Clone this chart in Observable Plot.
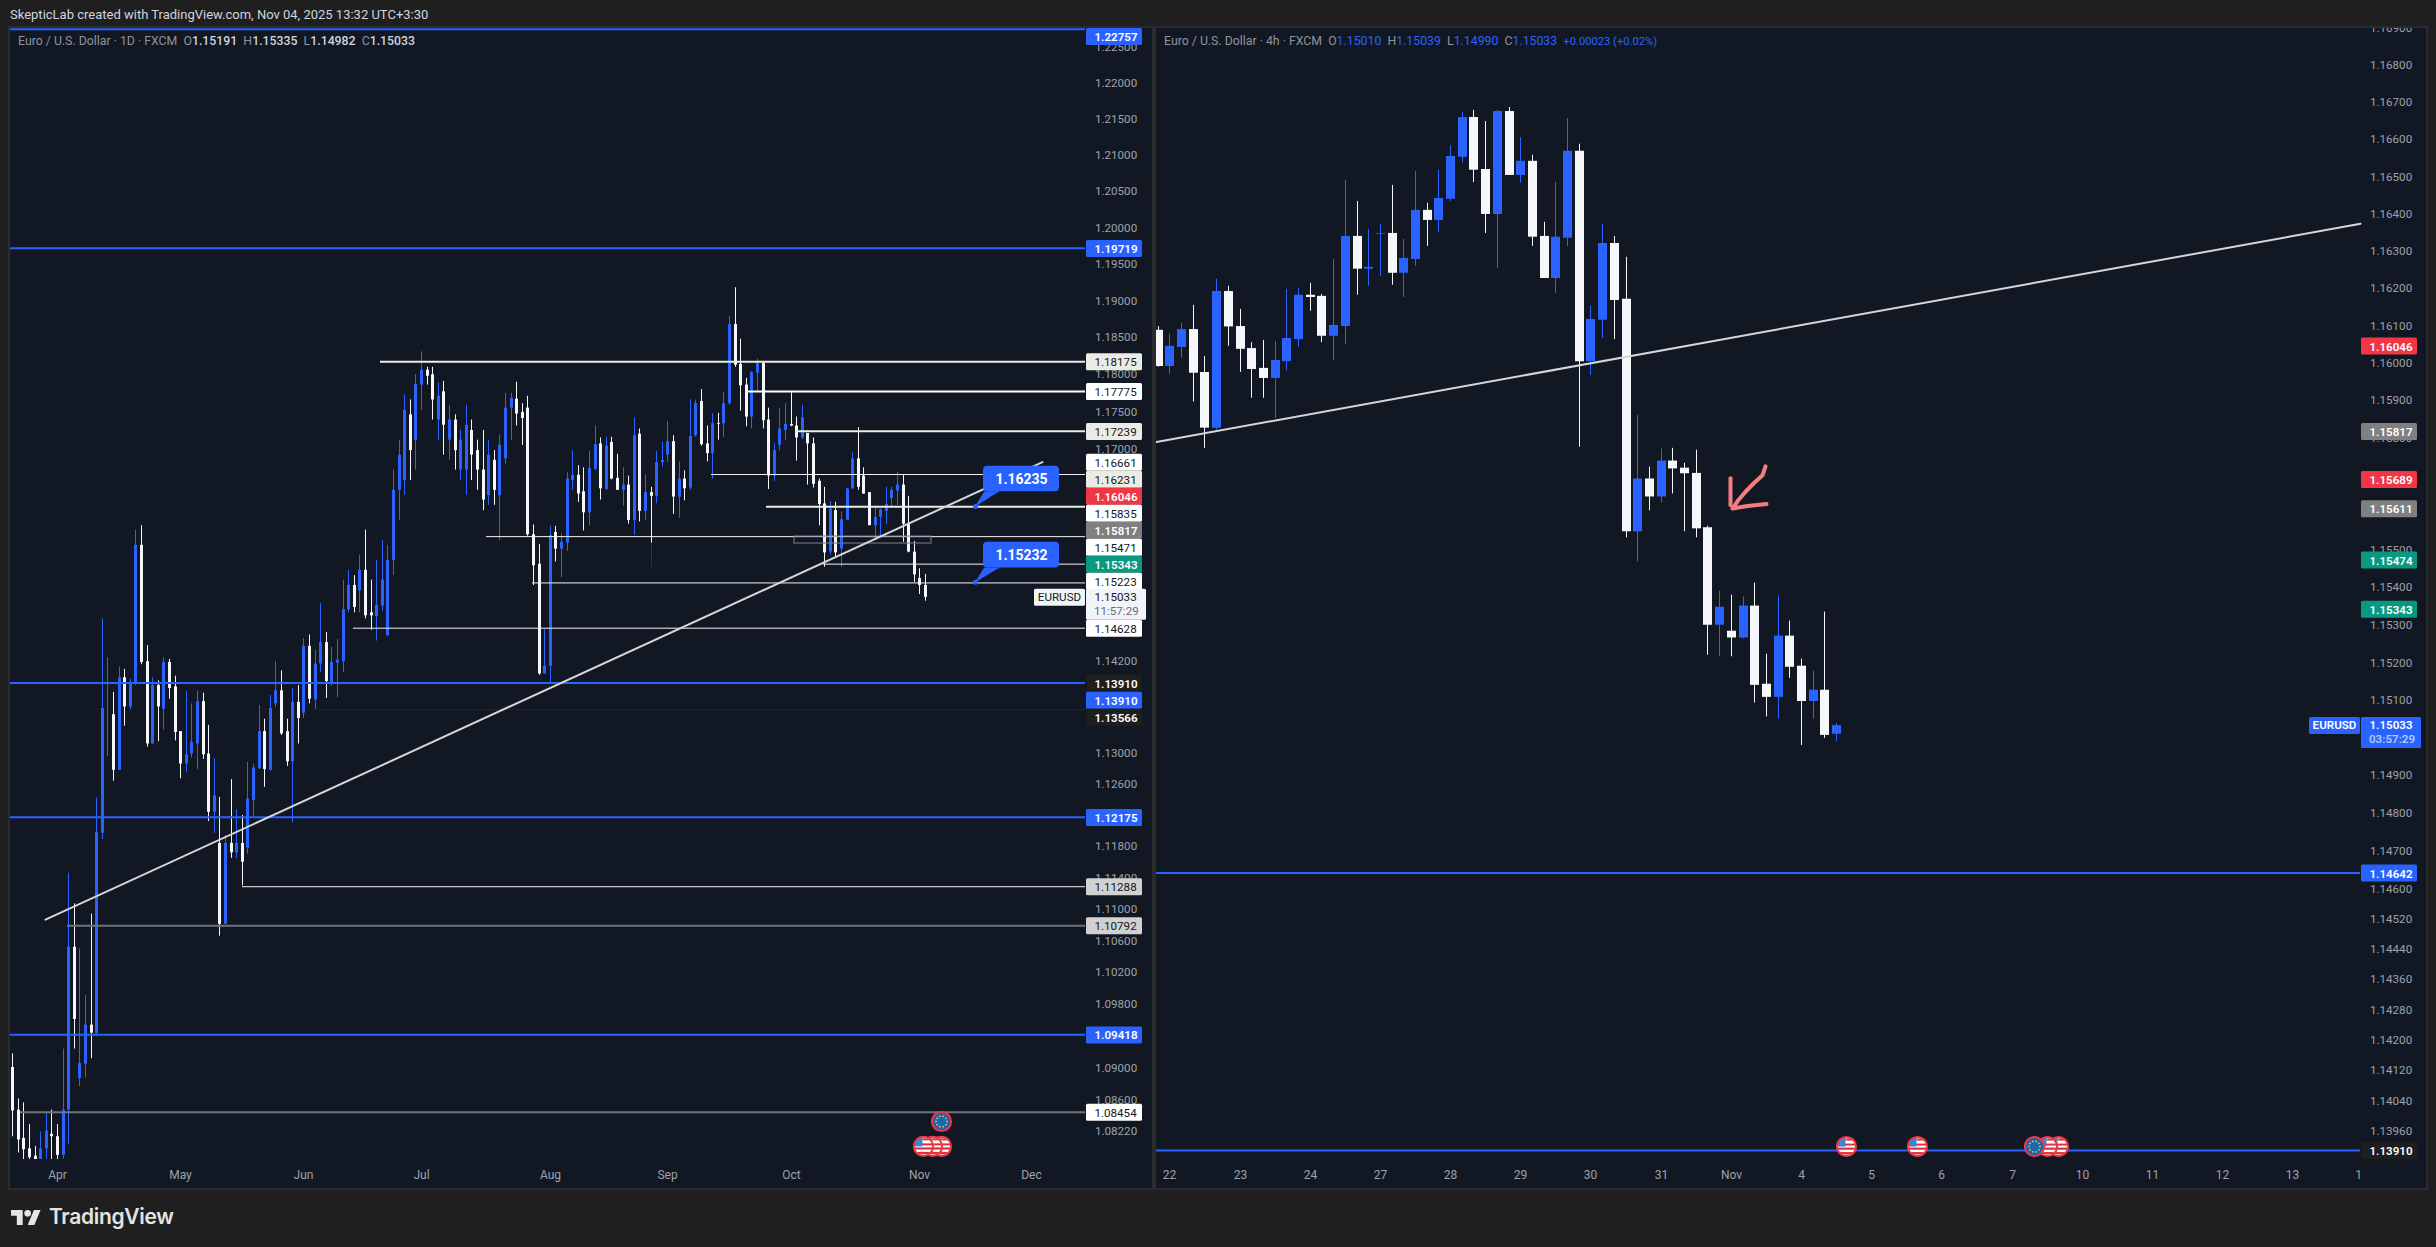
<!DOCTYPE html>
<html>
<head>
<meta charset="utf-8">
<script src="https://cdn.jsdelivr.net/npm/d3@7"></script>
<script src="https://cdn.jsdelivr.net/npm/@observablehq/plot@0.6"></script>
<style>
html,body{margin:0;padding:0;background:#1f1f1f;width:2436px;height:1247px;overflow:hidden;font-family:Roboto,sans-serif}
.abs{position:absolute}
.pane{position:absolute;background:#121823;box-sizing:content-box;border:2px solid #2a2b2f}
.hdr{position:absolute;left:10px;top:7px;font-size:13px;color:#d1d4dc;white-space:nowrap}
.legend{position:absolute;top:34px;font-size:12.3px;color:#8f939c;white-space:pre}
.legend b{font-weight:500}
.legend i{font-style:normal;font-weight:400;color:#2962ff}
svg{display:block;overflow:hidden}
</style>
</head>
<body>
<div class="pane" style="left:8px;top:26px;width:1142px;height:1160px"></div>
<div class="pane" style="left:1154px;top:26px;width:1270px;height:1160px"></div>
<div class="hdr">SkepticLab created with TradingView.com, Nov 04, 2025 13:32 UTC+3:30</div>
<div id="left" class="abs" style="left:10px;top:28px"></div>
<div id="right" class="abs" style="left:1156px;top:28px"></div>
<div class="legend" style="left:18px">Euro / U.S. Dollar · 1D · FXCM  O<b style="color:#d1d4dc">1.15191</b>  H<b style="color:#d1d4dc">1.15335</b>  L<b style="color:#d1d4dc">1.14982</b>  C<b style="color:#d1d4dc">1.15033</b></div>
<div class="legend" style="left:1164px">Euro / U.S. Dollar · 4h · FXCM  O<i>1.15010</i>  H<i>1.15039</i>  L<i>1.14990</i>  C<i>1.15033</i>  <i style="font-size:11.2px">+0.00023 (+0.02%)</i></div>
<svg class="abs" style="left:11px;top:1210px" width="30" height="15" viewBox="0 4 36 18"><path fill="#e4e4e4" d="M14 22H7V11H0V4h14v18zM28 22h-8l7.5-18h8L28 22z"/><circle fill="#e4e4e4" cx="20" cy="8" r="4"/></svg>
<div class="abs" style="left:49px;top:1204px;font-family:Inter,sans-serif;font-weight:600;font-size:21px;color:#e4e4e4;letter-spacing:-0.3px">TradingView</div>
<script>
// ---- DAILY CANDLES ----
const leftOpen=[1.0901,1.0848,1.0813,1.0800,1.0791,1.0780,1.0800,1.0818,1.0815,1.0792,
1.0848,1.1052,1.0887,1.0905,1.0954,1.0943,1.1197,1.1350,1.1350,1.1278,
1.1398,1.1360,1.1391,1.1572,1.1419,1.1312,1.1388,1.1357,1.1418,1.1386,
1.1328,1.1286,1.1299,1.1312,1.1367,1.1299,1.1224,1.1184,1.1081,1.1184,
1.1172,1.1184,1.1178,1.1239,1.1280,1.1328,1.1278,1.1364,1.1381,1.1328,
1.1289,1.1366,1.1352,1.1439,1.1369,1.1416,1.1444,1.1389,1.1417,1.1419,
1.1487,1.1519,1.1512,1.1539,1.1483,1.1478,1.1492,1.1453,1.1552,1.1645,
1.1658,1.1746,1.1712,1.1786,1.1806,1.1800,1.1739,1.1777,1.1712,1.1739,
1.1672,1.1672,1.1725,1.1698,1.1672,1.1638,1.1685,1.1638,
1.1687,1.1755,1.1767,1.1749,1.1755,1.1586,1.1547,1.1403,1.1413,1.1589,1.1567,1.1575,
1.1658,1.1665,1.1643,1.1615,1.1673,1.1707,1.1646,1.1709,1.1661,1.1645,
1.1652,1.1605,1.1720,1.1617,1.1642,1.1637,1.1682,1.1692,1.1710,1.1636,
1.1660,1.1648,1.1718,1.1764,1.1707,1.1694,1.1734,1.1734,1.1761,1.1868,
1.1814,1.1786,1.1743,1.1802,1.1815,1.1739,1.1664,1.1705,1.1725,1.1733,
1.1731,1.1715,1.1721,1.1707,1.1657,1.1627,1.1563,1.1618,1.1567,1.1605,
1.1647,1.1687,1.1664,1.1642,1.1598,1.1609,1.1617,1.1634,1.1644,1.1652,
1.1600,1.1563,1.1528,1.15191];
const leftHigh=[1.0918,1.0862,1.0857,1.0830,1.0803,1.0821,1.0844,1.0848,1.0830,1.0924,
1.1146,1.1107,1.1050,1.0991,1.1094,1.1242,1.1475,1.1424,1.1379,1.1412,
1.1409,1.1396,1.1592,1.1598,1.1440,1.1398,1.1394,1.1424,1.1422,1.1400,
1.1328,1.1380,1.1364,1.1381,1.1378,1.1336,1.1293,1.1243,1.1194,1.1266,
1.1227,1.1220,1.1288,1.1286,1.1362,1.1344,1.1375,1.1419,1.1407,1.1344,
1.1384,1.1388,1.1449,1.1454,1.1434,1.1495,1.1457,1.1438,1.1448,1.1526,
1.1539,1.1532,1.1559,1.1592,1.1526,1.1552,1.1578,1.1572,1.1672,1.1712,
1.1773,1.1766,1.1800,1.1831,1.1810,1.1810,1.1789,1.1791,1.1759,1.1746,
1.1725,1.1759,1.1739,1.1712,1.1725,1.1712,1.1698,1.1719,
1.1775,1.1775,1.1790,1.1761,1.1771,1.1599,1.1573,1.1461,1.1597,1.1597,1.1587,1.1669,
1.1698,1.1678,1.1675,1.1697,1.1731,1.1715,1.1716,1.1716,1.1693,1.1675,
1.1664,1.1742,1.1727,1.1666,1.1649,1.1697,1.1709,1.1737,1.1718,1.1683,
1.1671,1.1766,1.1766,1.1780,1.1731,1.1748,1.1748,1.1776,1.1879,1.1918,
1.1848,1.1795,1.1804,1.1821,1.1818,1.1755,1.1707,1.1755,1.1761,1.1777,
1.1743,1.1759,1.1721,1.1715,1.1660,1.1649,1.1630,1.1629,1.1616,1.1647,
1.1695,1.1729,1.1675,1.1642,1.1623,1.1620,1.1649,1.1649,1.1669,1.1665,
1.1637,1.1577,1.1541,1.15335];
const leftLow=[1.0815,1.0795,1.0770,1.0770,1.0770,1.0770,1.0775,1.0775,1.0775,1.0775,
1.0805,1.0924,1.0877,1.0888,1.0912,1.0943,1.1189,1.1296,1.1264,1.1278,
1.1335,1.1356,1.1388,1.1415,1.1308,1.1312,1.1315,1.1330,1.1370,1.1316,
1.1267,1.1275,1.1294,1.1279,1.1292,1.1212,1.1197,1.1066,1.1081,1.1165,
1.1165,1.1130,1.1170,1.1218,1.1279,1.1256,1.1277,1.1359,1.1323,1.1283,
1.1210,1.1312,1.1345,1.1364,1.1357,1.1405,1.1371,1.1387,1.1372,1.1405,
1.1483,1.1483,1.1483,1.1475,1.1460,1.1446,1.1485,1.1452,1.1532,1.1605,
1.1638,1.1658,1.1672,1.1752,1.1786,1.1739,1.1712,1.1692,1.1685,1.1672,
1.1658,1.1638,1.1658,1.1645,1.1618,1.1625,1.1625,1.1578,
1.1680,1.1712,1.1731,1.1705,1.1584,1.1519,1.1401,1.1403,1.1391,1.1550,1.1529,1.1564,
1.1645,1.1629,1.1591,1.1598,1.1671,1.1632,1.1645,1.1659,1.1645,1.1624,
1.1600,1.1585,1.1603,1.1605,1.1575,1.1627,1.1676,1.1682,1.1613,1.1608,
1.1631,1.1645,1.1716,1.1704,1.1683,1.1660,1.1712,1.1716,1.1759,1.1810,
1.1751,1.1730,1.1727,1.1778,1.1727,1.1646,1.1657,1.1698,1.1712,1.1730,
1.1684,1.1713,1.1652,1.1648,1.1598,1.1543,1.1559,1.1556,1.1543,1.1605,
1.1646,1.1645,1.1640,1.1598,1.1578,1.1583,1.1600,1.1623,1.1625,1.1576,
1.1562,1.1523,1.1507,1.14982];
const leftClose=[1.0847,1.0811,1.0799,1.0789,1.0780,1.0800,1.0822,1.0815,1.0792,1.0848,
1.1052,1.0961,1.0906,1.0954,1.0944,1.1198,1.1358,1.1350,1.1278,1.1398,
1.1360,1.1391,1.1572,1.1418,1.1312,1.1388,1.1360,1.1418,1.1384,1.1327,
1.1286,1.1298,1.1314,1.1367,1.1298,1.1224,1.1245,1.1081,1.1184,1.1172,
1.1184,1.1160,1.1241,1.1281,1.1328,1.1279,1.1358,1.1381,1.1325,1.1289,
1.1366,1.1345,1.1439,1.1370,1.1416,1.1444,1.1393,1.1418,1.1421,1.1487,
1.1519,1.1490,1.1539,1.1479,1.1479,1.1493,1.1526,1.1552,1.1645,1.1692,
1.1752,1.1698,1.1787,1.1806,1.1798,1.1766,1.1771,1.1732,1.1739,1.1698,
1.1712,1.1732,1.1692,1.1672,1.1632,1.1692,1.1645,1.1705,
1.1755,1.1768,1.1747,1.1741,1.1586,1.1545,1.1403,1.1413,1.1585,1.1567,1.1576,1.1660,
1.1665,1.1640,1.1615,1.1674,1.1706,1.1647,1.1704,1.1660,1.1645,1.1652,
1.1605,1.1718,1.1617,1.1642,1.1637,1.1682,1.1685,1.1710,1.1636,1.1660,
1.1647,1.1717,1.1761,1.1706,1.1694,1.1734,1.1733,1.1761,1.1868,1.1813,
1.1785,1.1743,1.1803,1.1815,1.1738,1.1664,1.1698,1.1727,1.1733,1.1731,
1.1715,1.1742,1.1707,1.1653,1.1626,1.1562,1.1620,1.1562,1.1606,1.1647,
1.1687,1.1649,1.1640,1.1598,1.1609,1.1619,1.1626,1.1645,1.1652,1.1600,
1.1563,1.1533,1.1519,1.15033];
// ---- 4H CANDLES ----
const rightOpen=[1.16088,1.15991,1.16042,1.16090,1.15975,1.15826,1.16192,1.16098,1.16039,1.15986,
1.15959,1.16004,1.16063,1.16182,1.16179,1.16072,1.16098,1.16340,1.16252,1.16346,
1.16348,1.16241,1.16278,1.16410,1.16383,1.16440,1.16553,1.16660,1.16520,1.16399,
1.16676,1.16504,1.16542,1.16340,1.16227,1.16335,1.16569,1.16004,1.16115,1.16321,
1.16171,1.15549,1.15690,1.15642,1.15738,1.15719,1.15705,1.15560,1.15300,1.15284,
1.15266,1.15351,1.15143,1.15108,1.15271,1.15191,1.15097,1.15127,1.15010];
const rightHigh=[1.16098,1.16077,1.16107,1.16155,1.16018,1.16225,1.16206,1.16144,1.16055,1.16061,
1.16058,1.16198,1.16201,1.16214,1.16184,1.16278,1.16491,1.16434,1.16359,1.16373,
1.16477,1.16332,1.16515,1.16429,1.16518,1.16585,1.16674,1.16679,1.16649,1.16679,
1.16687,1.16606,1.16558,1.16378,1.16485,1.16657,1.16588,1.16152,1.16373,1.16340,
1.16284,1.15860,1.15722,1.15770,1.15772,1.15732,1.15767,1.15564,1.15391,1.15380,
1.15375,1.15412,1.15223,1.15378,1.15311,1.15210,1.15178,1.15335,1.15039];
const rightLow=[1.15989,1.15970,1.16013,1.15896,1.15772,1.15820,1.16045,1.15975,1.15906,1.15906,
1.15852,1.15980,1.16042,1.16139,1.16055,1.16007,1.16050,1.16182,1.16206,1.16233,
1.16209,1.16176,1.16260,1.16313,1.16351,1.16434,1.16537,1.16485,1.16348,1.16254,
1.16504,1.16483,1.16313,1.16227,1.16187,1.16313,1.15775,1.15967,1.16066,1.16063,
1.15533,1.15469,1.15605,1.15626,1.15650,1.15549,1.15533,1.15220,1.15216,1.15216,
1.15263,1.15093,1.15056,1.15050,1.15159,1.14980,1.15050,1.14999,1.14990];
const rightClose=[1.15991,1.16045,1.16090,1.15973,1.15826,1.16192,1.16097,1.16037,1.15983,1.15959,
1.16007,1.16066,1.16182,1.16176,1.16072,1.16101,1.16340,1.16252,1.16257,1.16348,
1.16241,1.16281,1.16410,1.16383,1.16442,1.16555,1.16660,1.16518,1.16399,1.16676,
1.16504,1.16542,1.16338,1.16227,1.16338,1.16569,1.16004,1.16117,1.16321,1.16168,
1.15549,1.15690,1.15642,1.15738,1.15717,1.15704,1.15557,1.15300,1.15348,1.15266,
1.15351,1.15140,1.15108,1.15271,1.15188,1.15097,1.15127,1.15007,1.15033];
// ---- AXES ----
const leftDomain=[1.07869,1.22767], rightDomain=[1.13886,1.16900];
const leftBars=[-0.393,191.57], rightBars=[-0.137,102.77];
const leftPriceTicks=[1.225,1.22,1.215,1.21,1.205,1.2,1.195,1.19,1.185,1.18,1.175,1.17,1.142,1.13,1.126,1.118,1.114,1.11,1.106,1.102,1.098,1.09,1.086,1.0822];
const rightPriceTicks=[1.169,1.168,1.167,1.166,1.165,1.164,1.163,1.162,1.161,1.16,1.159,1.158,1.155,1.154,1.153,1.152,1.151,1.149,1.148,1.147,1.146,1.1452,1.1444,1.1436,1.1428,1.142,1.1412,1.1404,1.1396];
const leftTimeBars=[8,30,52,73,96,117,139,162,182];
const leftTimeLabels=["Apr","May","Jun","Jul","Aug","Sep","Oct","Nov","Dec"];
const rightTimeBars=[1,7,13,19,25,31,37,43,49,55,61,67,73,79,85,91,97,102.6];
const rightTimeLabels=["22","23","24","27","28","29","30","31","Nov","4","5","6","7","10","11","12","13","1"];
// ---- LEVELS ----
const leftLevelPrices=[1.22757,1.19719,1.18175,1.17775,1.17239,1.16661,1.16231,1.15835,1.15471,1.15223,1.14628,1.1391,1.13566,1.12175,1.11288,1.10792,1.09418,1.08454];
const leftLevelStarts=[-1,-1,65.7,131.2,139.8,124.8,134.6,84.6,144.8,92.8,60.8,-1,53.9,-1,41,9.8,-1,1.4];
const leftLevelKinds=["blue","blue","cream","white","cream","thin","cream","thin","thin","thin","thin","blue","faint","blue","thin","grey","blue","grey"];
const rightLevelPrices=[1.14642,1.1391];
const rightLevelKinds=["blue","blue"];
// ---- PRICE SCALE LABELS ----
const leftLabelPrices=[1.22757,1.19719,1.18175,1.17775,1.17239,1.16661,1.16231,1.16046,1.15835,1.15817,1.15471,1.15343,1.15223,1.14628,1.1391,1.1391,1.13566,1.12175,1.11288,1.10792,1.09418,1.08454];
const leftLabelKinds=["blue","blue","cream","white","cream","white","cream","red","white","gray","white","green","white","white","dark","blue","dark","blue","silver","silver","blue","white"];
const rightLabelPrices=[1.16046,1.15817,1.15689,1.15611,1.15474,1.15343,1.14642,1.1391];
const rightLabelKinds=["red","gray","red","gray","green","green","blue","dark"];
// ---- TREND LINES, CALLOUTS, EVENTS ----
const leftTrendBars=[5.9,183.9], leftTrendPrices=[1.1087,1.16826];
const rightTrendBars=[-0.13,102.77], rightTrendPrices=[1.15789,1.16374];
const calloutValues=[1.16235,1.15232];
const leftEventBars=[165.8,165.8,164.3,162.6], leftEventPrices=[1.08339,1.08031,1.08031,1.08031], leftEventKinds=["eu","us","us","us"];
const rightEventBars=[58.88,64.9,77,76,74.9], rightEventPrice=1.1392, rightEventKinds=["us","us","us","us","eu"];
const arrowBars=[51.9,51.63,50.9,50.2,49.63,49.07,50.35,52], arrowPrices=[1.15724,1.157,1.15678,1.15656,1.15634,1.15611,1.15618,1.15623];
const arrowSideBars=[48.92,48.92], arrowSidePrices=[1.15692,1.1562];

// ---- STYLES ----
const BLUE="#2962ff", CANDLE_W="#f5f7fa", FONT="Roboto, sans-serif", AXIS="#9ea2ab";
const levelStyle={blue:[BLUE,2],cream:["#ecece4",2],white:["#ffffff",2],thin:["#f2f2f2",1],faint:["#23262c",1],grey:["#70737c",2]};
const labelStyle={blue:[BLUE,"#fff",600],cream:["#ecece4","#131722",400],white:["#fff","#131722",400],red:["#f23645","#fff",600],gray:["#808080","#fff",600],green:["#089981","#fff",600],dark:["#1e1e1e","#fff",600],silver:["#d1d1d1","#131722",400]};
const usFlag=`<svg xmlns='http://www.w3.org/2000/svg' viewBox='0 0 22 22'><defs><clipPath id='c'><circle cx='11' cy='11' r='9'/></clipPath></defs><g clip-path='url(#c)'><rect width='22' height='22' fill='#fff'/><rect y='8' x='9' width='13' height='2' fill='#e0303c'/><rect y='12' width='22' height='2.2' fill='#e0303c'/><rect y='16.5' width='22' height='2.4' fill='#e0303c'/><rect y='3' x='10' width='12' height='2' fill='#e0303c'/><rect width='10' height='11' fill='#3b83d9'/></g><circle cx='11' cy='11' r='9.6' fill='none' stroke='#f23645' stroke-width='2'/></svg>`;
const euFlag=`<svg xmlns='http://www.w3.org/2000/svg' viewBox='0 0 22 22'><circle cx='11' cy='11' r='9' fill='#1a66b0'/>${d3.range(10).map(k=>`<circle cx='${(11+5.5*Math.cos(k*Math.PI/5)).toFixed(1)}' cy='${(11+5.5*Math.sin(k*Math.PI/5)).toFixed(1)}' r='0.9' fill='#e8c53a'/>`).join("")}<circle cx='11' cy='11' r='9.6' fill='none' stroke='#f23645' stroke-width='2'/></svg>`;
const flagSrc={us:"data:image/svg+xml,"+encodeURIComponent(usFlag),eu:"data:image/svg+xml,"+encodeURIComponent(euFlag)};

// ---- DRAW HELPERS ----
const candles=(O,H,L,C)=>O.map((o,i)=>({i,o,h:H[i],l:L[i],c:C[i],color:C[i]>=o?BLUE:CANDLE_W}));
const candleMarks=(rows,bodyWidth)=>[
  Plot.ruleX(rows,{x:"i",y1:"l",y2:"h",stroke:"color",strokeWidth:1,clip:true}),
  Plot.ruleX(rows,{x:"i",y1:"o",y2:"c",stroke:"color",strokeWidth:bodyWidth,clip:true})
];
const levelMarks=(prices,starts,kinds,xEnd)=>Object.keys(levelStyle).map(kind=>{
  const rows=prices.map((p,i)=>({p,from:starts[i],kind})).filter((r,i)=>kinds[i]===kind);
  return Plot.ruleY(rows,{y:"p",x1:"from",x2:()=>xEnd,stroke:levelStyle[kind][0],strokeWidth:levelStyle[kind][1],clip:true});
});
const FS=11.6;
function box(g,x,y,w,h,fill){g.append("rect").attr("x",x).attr("y",y).attr("width",w).attr("height",h).attr("rx",1.5).attr("fill",fill);}
function txt(g,x,y,s,fill,weight,anchor){g.append("text").attr("x",x).attr("y",y).attr("dy","0.36em").attr("text-anchor",anchor||"start").attr("fill",fill).attr("font-size",FS).attr("font-weight",weight||400).text(s);}
// price scale tags: placed by the y scale, with stacked tags stepping off an anchor price
const tagMark=(prices,kinds,place,last)=>(index,{y},_,{width,marginRight})=>{
  const g=d3.create("svg:g").attr("font-family",FONT);
  const x0=width-marginRight+1, H=17;
  prices.forEach((p,i)=>{
    const pl=place(p,i), cy=Math.max(H/2,y(pl.anchor)+0.6+pl.step*H);
    const [f,ink,w]=labelStyle[kinds[i]];
    box(g,x0,cy-H/2,56,H,f);
    txt(g,x0+8.5,cy+0.3,p.toFixed(5),ink,w);
  });
  const cy=y(last.price)+8;
  box(g,x0,cy-16,last.w,31,last.fill);
  txt(g,x0+8.5,cy-8,last.price.toFixed(5),last.ink,last.weight);
  txt(g,x0+8,cy+6,last.timer,last.timerInk,last.weight);
  box(g,x0-52,cy-16,51,17,last.fill);
  txt(g,x0-26.5,cy-7.8,"EURUSD",last.ink,last.weight,"middle");
  return g.node();
};
const stackSteps=new Map();
for(let k=5;k<=12;k++) stackSteps.set(k,{anchor:1.15471,step:k-11});
stackSteps.set(15,{anchor:1.1391,step:1});
stackSteps.set(16,{anchor:1.1391,step:2});
const axisX=(bars,labels,pad)=>Plot.axisX({ticks:bars,tickSize:0,tickPadding:pad,tickFormat:v=>labels[bars.indexOf(v)],fill:AXIS,fontSize:12});
const axisY=(ticks)=>Plot.axisY({anchor:"right",ticks,tickSize:0,tickPadding:9.5,tickFormat:d3.format(".5f"),fill:AXIS,fontSize:FS});
const base=(xd,yd,width,marginRight,marks)=>Plot.plot({width,height:1158,marginTop:0,marginLeft:0,marginRight,marginBottom:27,
  style:{background:"transparent",fontFamily:FONT,overflow:"hidden"},
  x:{domain:xd,round:true,axis:null},y:{type:"log",domain:yd,axis:null},marks});

// ---- LEFT PANE ----
const leftRows=candles(leftOpen,leftHigh,leftLow,leftClose);
const callout=(value,top,bottom,mid)=>{
  const tail=[{x:171.9,y:value},{x:173.5,y:bottom},{x:176,y:bottom}];
  return [
    Plot.line(tail,{x:"x",y:"y",fill:BLUE,stroke:BLUE,strokeWidth:1}),
    Plot.dot([{x:171.9,y:value}],{x:"x",y:"y",r:2.5,fill:BLUE}),
    Plot.rect([{x1:173.4,x2:186.9,y1:bottom,y2:top}],{x1:"x1",x2:"x2",y1:"y1",y2:"y2",fill:BLUE,rx:4}),
    Plot.text([{x:180.2,y:mid,t:value.toFixed(5)}],{x:"x",y:"y",text:"t",fill:"#fff",fontSize:14,fontWeight:700})
  ];
};
document.getElementById("left").append(base(leftBars,leftDomain,1140,65,[
  axisX(leftTimeBars,leftTimeLabels,11),
  axisY(leftPriceTicks),
  Plot.ruleX([114],{x:d=>d,y1:1.1575,y2:1.1543,stroke:"#1d3a36",strokeWidth:1}),
  ...candleMarks(leftRows,3),
  ...levelMarks(leftLevelPrices,leftLevelStarts,leftLevelKinds,leftBars[1]),
  Plot.rect([{x1:139.6,x2:164.1,y1:1.15743,y2:1.15835}],{x1:"x1",x2:"x2",y1:"y1",y2:"y2",fill:"none",stroke:"#787b86",strokeOpacity:0.55,strokeWidth:2}),
  Plot.line(leftTrendBars.map((x,i)=>({x,y:leftTrendPrices[i]})),{x:"x",y:"y",stroke:"#d6d6d6",strokeWidth:2}),
  ...callout(calloutValues[0],1.1677,1.1643,1.16600),
  ...callout(calloutValues[1],1.1576,1.1542,1.15590),
  Plot.image(leftEventBars.map((x,i)=>({x,y:leftEventPrices[i],k:leftEventKinds[i]})),{x:"x",y:"y",src:d=>flagSrc[d.k],width:22,height:22}),
  tagMark(leftLabelPrices,leftLabelKinds,(p,i)=>stackSteps.get(i)||{anchor:p,step:0},
    {price:1.15033,w:60,fill:"#f1f4f8",ink:"#131722",weight:400,timer:"11:57:29",timerInk:"#6a6d78"})
]));

// ---- RIGHT PANE ----
const rightRows=candles(rightOpen,rightHigh,rightLow,rightClose);
document.getElementById("right").append(base(rightBars,rightDomain,1270,66,[
  axisX(rightTimeBars,rightTimeLabels,11),
  axisY(rightPriceTicks),
  ...candleMarks(rightRows,9),
  ...levelMarks(rightLevelPrices,rightLevelPrices.map(()=>-1),rightLevelKinds,rightBars[1]),
  Plot.line(rightTrendBars.map((x,i)=>({x,y:rightTrendPrices[i]})),{x:"x",y:"y",stroke:"#d6d6d6",strokeWidth:2}),
  Plot.line(arrowBars.map((x,i)=>({x,y:arrowPrices[i]})),{x:"x",y:"y",stroke:"#f77c80",strokeWidth:4,strokeLinecap:"round",strokeLinejoin:"round"}),
  Plot.line(arrowSideBars.map((x,i)=>({x,y:arrowSidePrices[i]})),{x:"x",y:"y",stroke:"#f77c80",strokeWidth:4,strokeLinecap:"round"}),
  Plot.image(rightEventBars.map((x,i)=>({x,y:rightEventPrice,k:rightEventKinds[i]})),{x:"x",y:"y",src:d=>flagSrc[d.k],width:22,height:22}),
  tagMark(rightLabelPrices,rightLabelKinds,p=>({anchor:p,step:0}),
    {price:1.15033,w:60,fill:BLUE,ink:"#fff",weight:600,timer:"03:57:29",timerInk:"#b4c9ff"})
]));
</script>
</body>
</html>
